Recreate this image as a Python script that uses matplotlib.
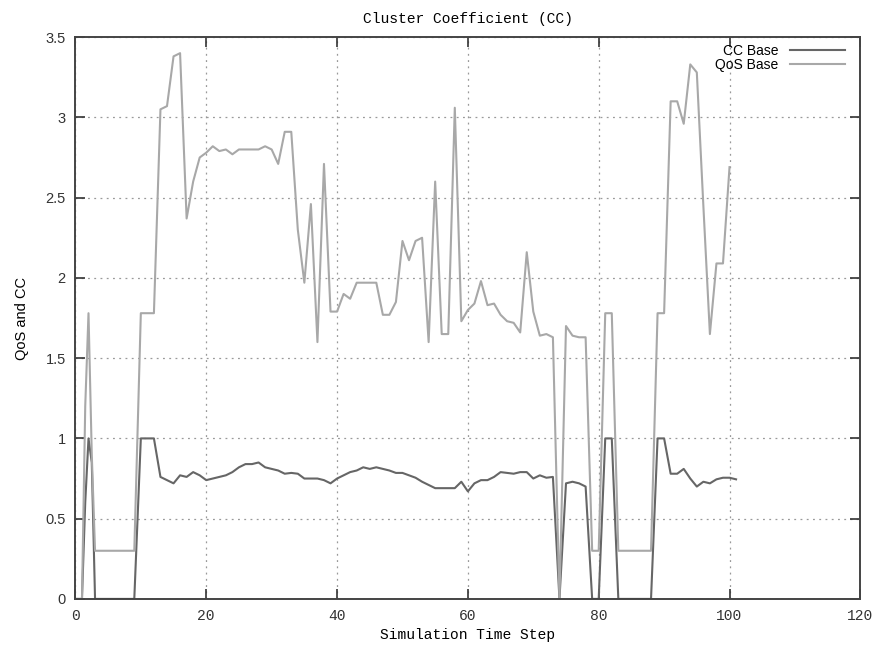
# cluster coefficient and QoS over the simulation run

import matplotlib
matplotlib.use('Agg')
import matplotlib.pyplot as plt

# time steps and values for the cluster coefficient
cc_steps = [0, 1, 1.5, 2, 2.5, 3, 4, 5, 6, 7, 8, 9,
            10, 11, 12, 13, 14, 15, 16, 17, 18, 19,
            20, 21, 22, 23, 24, 25, 26, 27, 28, 29,
            30, 31, 32, 33, 34, 35, 36, 37, 38, 39,
            40, 41, 42, 43, 44, 45, 46, 47, 48, 49,
            50, 51, 52, 53, 54, 55, 56, 57, 58, 59,
            60, 61, 62, 63, 64, 65, 66, 67, 68, 69,
            70, 71, 72, 73, 74, 75, 76, 77, 78, 79,
            80, 81, 82, 83, 84, 85, 86, 87, 88, 89,
            90, 91, 92, 93, 94, 95, 96, 97, 98, 99,
            100, 101]
cc_base = [0, 0, 0.6, 1.0, 0.85, 0, 0, 0, 0, 0, 0, 0,
           1.0, 1.0, 1.0, 0.76, 0.74, 0.72, 0.77, 0.76, 0.79, 0.77,
           0.74, 0.75, 0.76, 0.77, 0.79, 0.82, 0.84, 0.84, 0.85, 0.82,
           0.81, 0.80, 0.78, 0.785, 0.78, 0.75, 0.75, 0.75, 0.74, 0.72,
           0.75, 0.77, 0.79, 0.80, 0.82, 0.81, 0.82, 0.81, 0.80, 0.785,
           0.785, 0.77, 0.755, 0.73, 0.71, 0.69, 0.69, 0.69, 0.69, 0.73,
           0.67, 0.72, 0.74, 0.74, 0.76, 0.79, 0.785, 0.78, 0.79, 0.79,
           0.75, 0.77, 0.755, 0.76, 0, 0.72, 0.73, 0.72, 0.70, 0,
           0, 1.0, 1.0, 0, 0, 0, 0, 0, 0, 1.0,
           1.0, 0.78, 0.78, 0.81, 0.75, 0.70, 0.73, 0.72, 0.745, 0.755,
           0.755, 0.745]

# time steps and values for the QoS
qos_steps = cc_steps[:-1]
qos_base = [0, 0, 1.2, 1.78, 0.9, 0.3, 0.3, 0.3, 0.3, 0.3, 0.3, 0.3,
            1.78, 1.78, 1.78, 3.05, 3.07, 3.38, 3.40, 2.37, 2.6, 2.75,
            2.78, 2.82, 2.79, 2.80, 2.77, 2.80, 2.80, 2.80, 2.80, 2.82,
            2.80, 2.71, 2.91, 2.91, 2.3, 1.97, 2.46, 1.60, 2.71, 1.79,
            1.79, 1.90, 1.87, 1.97, 1.97, 1.97, 1.97, 1.77, 1.77, 1.85,
            2.23, 2.11, 2.23, 2.25, 1.60, 2.60, 1.65, 1.65, 3.06, 1.73,
            1.80, 1.84, 1.98, 1.83, 1.84, 1.77, 1.73, 1.72, 1.66, 2.16,
            1.79, 1.64, 1.65, 1.63, 0, 1.70, 1.64, 1.63, 1.63, 0.3,
            0.3, 1.78, 1.78, 0.3, 0.3, 0.3, 0.3, 0.3, 0.3, 1.78,
            1.78, 3.10, 3.10, 2.96, 3.33, 3.28, 2.45, 1.65, 2.09, 2.09,
            2.69]

x_ticks = [0, 20, 40, 60, 80, 100, 120]
y_ticks = [0, 0.5, 1, 1.5, 2, 2.5, 3, 3.5]
y_tick_labels = ['0', '0.5', '1', '1.5', '2', '2.5', '3', '3.5']

mono = 'Liberation Mono'
sans = 'Liberation Sans'

fig = plt.figure(figsize=(8.77, 6.51), dpi=100)
ax = fig.add_axes([0.086, 0.080, 0.895, 0.863])

ax.plot(cc_steps, cc_base, color='#666666', linewidth=1.5, label='CC Base')
ax.plot(qos_steps, qos_base, color='#a8a8a8', linewidth=1.5, label='QoS Base')

ax.set_xlim(0, 120)
ax.set_ylim(0, 3.5)
ax.set_xticks(x_ticks)
ax.set_xticklabels([str(t) for t in x_ticks], fontfamily=mono, fontsize=10.5)
ax.set_yticks(y_ticks)
ax.set_yticklabels(y_tick_labels, fontfamily=sans, fontsize=10.5)

# gnuplot style: inward ticks mirrored on all four sides
ax.tick_params(direction='in', length=7, width=1.2, top=True, right=True,
               colors='#333333', pad=7)

ax.grid(True, linestyle=(0, (1.5, 3.5)), color='#999999', linewidth=0.9)
for side in ax.spines.values():
    side.set_linewidth(1.4)
    side.set_color('#444444')

ax.set_title('Cluster Coefficient (CC)', fontfamily=mono, fontsize=10.5, pad=10)
ax.set_xlabel('Simulation Time Step', fontfamily=mono, fontsize=10.5, labelpad=4)
ax.set_ylabel('QoS and CC', fontfamily=sans, fontsize=10.5, labelpad=12)

ax.legend(loc='upper right', frameon=False, markerfirst=False,
          prop={'family': sans, 'size': 10}, handlelength=4.0,
          labelspacing=0.0, borderaxespad=0.4, bbox_to_anchor=(0.995, 1.008))

fig.savefig('out.png', dpi=100)
